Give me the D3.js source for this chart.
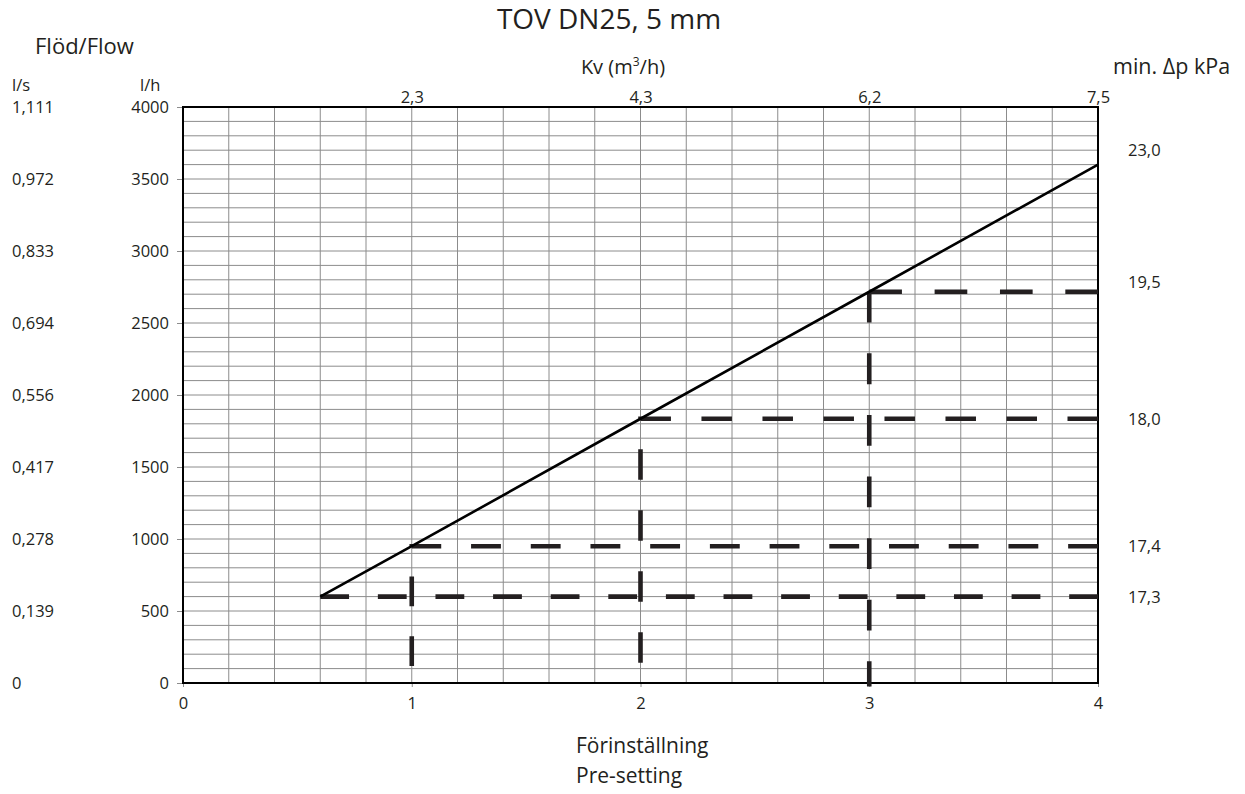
<!DOCTYPE html>
<html>
<head>
<meta charset="utf-8">
<script src="https://cdn.jsdelivr.net/npm/d3@7"></script>
<style>
  html, body { margin: 0; padding: 0; background: #fff; }
  svg { display: block; font-family: "Open Sans", "Noto Sans", sans-serif; }
</style>
</head>
<body>
<svg id="chart" width="1245" height="794"></svg>
<script>
// ---------- data ----------
const presetTicks = [0, 1, 2, 3, 4];
const presetGrid = d3.range(0, 21).map(i => i / 5);          // every 0.2
const flowTicks = [0, 500, 1000, 1500, 2000, 2500, 3000, 3500, 4000];
const flowGrid = d3.range(0, 41).map(i => i * 100);          // every 100 l/h
const flowLsLabels = ["0", "0,139", "0,278", "0,417", "0,556", "0,694", "0,833", "0,972", "1,111"];
const kvAt = [1, 2, 3, 4];
const kvLabels = ["2,3", "4,3", "6,2", "7,5"];
const curvePreset = [0.6, 1, 2, 3, 4];
const curveFlow = [600, 950, 1835, 2717, 3600];
const guidePreset = [0.6, 1, 2, 3];
const guideFlow = [600, 950, 1835, 2717];
const guideDrop = [null, 118, 140, -25];   // flow where the vertical guide ends
const dpLabels = ["23,0", "19,5", "18,0", "17,4", "17,3"];
const dpFlow = [3700, 2785, 1835, 950, 600];

// ---------- layout ----------
const svg = d3.select("#chart");
const x = d3.scaleLinear().domain([0, 4]).range([183, 1098]);
const y = d3.scaleLinear().domain([0, 4000]).range([683, 107]);
const ink = "#231f20";

// grid
const grid = svg.append("g").attr("stroke", "#8c8c8c").attr("stroke-width", 1);
grid.selectAll("line.v").data(presetGrid).join("line")
  .attr("x1", d => x(d)).attr("x2", d => x(d))
  .attr("y1", y(0)).attr("y2", y(4000));
grid.selectAll("line.h").data(flowGrid).join("line")
  .attr("y1", d => y(d)).attr("y2", d => y(d))
  .attr("x1", x(0)).attr("x2", x(4));

// left axis (l/h)
const yAxis = d3.axisLeft(y).tickValues(flowTicks).tickSize(6).tickPadding(8).tickFormat(d3.format("d"));
const gy = svg.append("g").attr("transform", `translate(${x(0)},0)`).call(yAxis);
gy.select(".domain").remove();
gy.selectAll(".tick line").attr("stroke", "#8c8c8c");
gy.selectAll(".tick text").attr("font-size", 16.5).attr("fill", ink).attr("font-family", "Open Sans");

// bottom axis
const xAxis = d3.axisBottom(x).tickValues(presetTicks).tickSize(4).tickPadding(10).tickFormat(d3.format("d"));
const gx = svg.append("g").attr("transform", `translate(0,${y(0)})`).call(xAxis);
gx.select(".domain").remove();
gx.selectAll(".tick line").attr("stroke", "#8c8c8c");
gx.selectAll(".tick text").attr("font-size", 16.5).attr("fill", ink).attr("font-family", "Open Sans");

// top axis (Kv)
const kvScale = d3.scaleOrdinal().domain(kvAt).range(kvLabels);
const xTop = d3.axisTop(x).tickValues(kvAt).tickSize(0).tickPadding(4).tickFormat(d => kvScale(d));
const gt = svg.append("g").attr("transform", `translate(0,${y(4000)})`).call(xTop);
gt.select(".domain").remove();
gt.selectAll(".tick text").attr("font-size", 16.5).attr("fill", ink).attr("font-family", "Open Sans");

// l/s labels
svg.append("g").selectAll("text").data(flowTicks).join("text")
  .attr("x", 12).attr("y", d => y(d)).attr("dy", "0.36em")
  .attr("font-size", 16.5).attr("fill", ink)
  .text((d, i) => flowLsLabels[i]);

// frame
svg.append("rect")
  .attr("x", x(0)).attr("y", y(4000))
  .attr("width", x(4) - x(0)).attr("height", y(0) - y(4000))
  .attr("fill", "none").attr("stroke", "#000").attr("stroke-width", 2);

// dashed guides
function fitDash(len, target) {
  let n = Math.round(len / target);
  if (n % 2 === 0) {
    const a = n - 1, b = n + 1;
    n = Math.abs(len / a - target) < Math.abs(len / b - target) ? a : b;
  }
  return len / Math.max(n, 1);
}
const line = d3.line().x(d => x(d[0])).y(d => y(d[1]));
guidePreset.forEach((p, i) => {
  const f = guideFlow[i];
  const drop = guideDrop[i];
  let pts, fullDrop = false;
  if (drop === null) {
    pts = [[p, f], [4, f]];
  } else if (drop < 0) {
    pts = [[4, f], [p, f]];
    fullDrop = true;
  } else {
    pts = [[p, drop], [p, f], [4, f]];
  }
  const path = svg.append("path").attr("d", line(pts))
    .attr("fill", "none").attr("stroke", ink).attr("stroke-width", 4.6)
    .attr("stroke-linecap", "butt");
  const len = path.node().getTotalLength();
  const d = fitDash(len, 29.5);
  path.attr("stroke-dasharray", `${d} ${d}`);
  if (fullDrop) {
    svg.append("path").attr("d", line([[p, f], [p, drop]]))
      .attr("fill", "none").attr("stroke", ink).attr("stroke-width", 4.6)
      .attr("stroke-dasharray", "30.8 30.8");
  }
});

// solid curve
svg.append("path")
  .attr("d", line(curvePreset.map((p, i) => [p, curveFlow[i]])))
  .attr("fill", "none").attr("stroke", "#000").attr("stroke-width", 2.6)
  .attr("stroke-linejoin", "round");

// right labels (min dp)
svg.append("g").selectAll("text").data(dpFlow).join("text")
  .attr("x", 1128).attr("y", d => y(d)).attr("dy", "0.36em")
  .attr("font-size", 16.5).attr("fill", ink)
  .text((d, i) => dpLabels[i]);

// titles and axis names
const T = (txt, xx, yy, size, anchor) => svg.append("text")
  .attr("x", xx).attr("y", yy).attr("font-size", size)
  .attr("text-anchor", anchor || "start").attr("fill", ink).text(txt);
T("TOV DN25, 5 mm", 609, 29, 28, "middle");
T("Flöd/Flow", 35, 54, 22);
T("l/s", 12, 91, 16.5);
T("l/h", 140, 91, 16.5);
const kv = svg.append("text").attr("x", 623).attr("y", 74).attr("font-size", 20)
  .attr("text-anchor", "middle").attr("fill", ink);
kv.append("tspan").text("Kv (m");
kv.append("tspan").attr("font-size", 12).attr("dy", -8).text("3");
kv.append("tspan").attr("dy", 8).text("/h)");
T("min. Δp kPa", 1113, 74, 21.5);
T("Förinställning", 576, 753, 21);
T("Pre-setting", 576, 783, 21);
</script>
</body>
</html>
